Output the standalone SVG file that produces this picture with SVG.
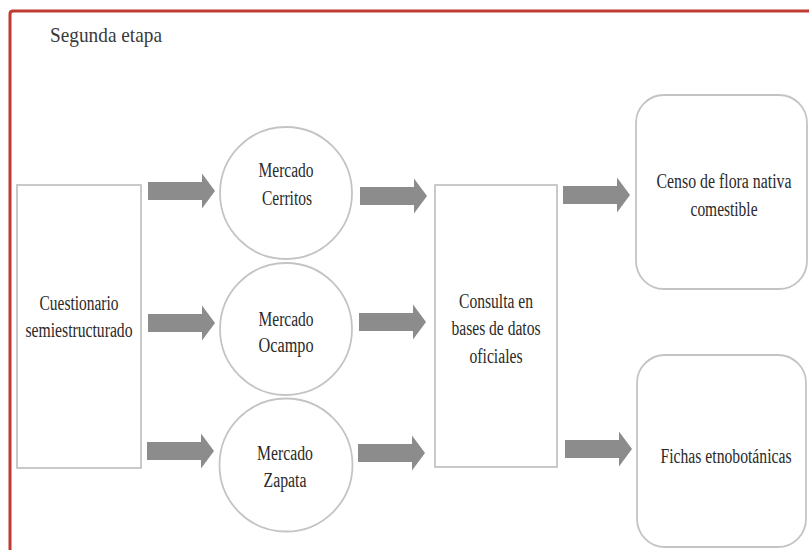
<svg xmlns="http://www.w3.org/2000/svg" xmlns:xlink="http://www.w3.org/1999/xlink" width="809" height="550" viewBox="0 0 809 550">
  <style>
    .frame { fill: none; stroke: #bf3a31; stroke-width: 3; }
    .box { fill: #ffffff; stroke: #c4c4c4; stroke-width: 1.8; }
    /* narrow, tall serif lettering: 16px wide glyphs stretched 1.25x vertically */
    .lbl { font-family: "Liberation Serif", "Times New Roman", serif; font-size: 16px; fill: #2a2a2a; text-anchor: middle; }
    .title { font-family: "Liberation Serif", "Times New Roman", serif; font-size: 17px; fill: #3a3a3a; }
    .arrow { fill: #8c8c8c; }
  </style>
  <defs>
    <!-- block arrow pointing right, origin at tail centre -->
    <path id="blockArrow" class="arrow" d="M0,-9 H54 V-17.5 L67,0 L54,17.5 V9 H0 Z"/>
  </defs>

  <rect width="809" height="550" fill="#ffffff"/>
  <path class="frame" d="M10,550 V14 Q10,11 13,11 H809"/>

  <text class="title" transform="translate(50,42) scale(1,1.25)" textLength="112" lengthAdjust="spacingAndGlyphs">Segunda etapa</text>

  <g id="connectors">
    <use xlink:href="#blockArrow" transform="translate(148,191)"/>
    <use xlink:href="#blockArrow" transform="translate(148,323)"/>
    <use xlink:href="#blockArrow" transform="translate(147,451)"/>
    <use xlink:href="#blockArrow" transform="translate(360,196)"/>
    <use xlink:href="#blockArrow" transform="translate(359,322)"/>
    <use xlink:href="#blockArrow" transform="translate(358,453)"/>
    <use xlink:href="#blockArrow" transform="translate(563,195)"/>
    <use xlink:href="#blockArrow" transform="translate(565,449)"/>
  </g>

  <g id="cuestionario">
    <rect class="box" x="17" y="185" width="124" height="283"/>
    <text class="lbl" transform="translate(79,310) scale(1,1.25)" textLength="79" lengthAdjust="spacingAndGlyphs">Cuestionario</text>
    <text class="lbl" transform="translate(79,337) scale(1,1.25)" textLength="107" lengthAdjust="spacingAndGlyphs">semiestructurado</text>
  </g>

  <g id="mercado-cerritos">
    <circle class="box" cx="286" cy="193" r="66"/>
    <text class="lbl" transform="translate(286,177) scale(1,1.25)" textLength="55" lengthAdjust="spacingAndGlyphs">Mercado</text>
    <text class="lbl" transform="translate(287,205) scale(1,1.25)" textLength="50" lengthAdjust="spacingAndGlyphs">Cerritos</text>
  </g>

  <g id="mercado-ocampo">
    <circle class="box" cx="286" cy="329" r="66"/>
    <text class="lbl" transform="translate(286,326) scale(1,1.25)" textLength="55" lengthAdjust="spacingAndGlyphs">Mercado</text>
    <text class="lbl" transform="translate(286,352) scale(1,1.25)" textLength="55" lengthAdjust="spacingAndGlyphs">Ocampo</text>
  </g>

  <g id="mercado-zapata">
    <circle class="box" cx="286" cy="465" r="66.5"/>
    <text class="lbl" transform="translate(285,460) scale(1,1.25)" textLength="56" lengthAdjust="spacingAndGlyphs">Mercado</text>
    <text class="lbl" transform="translate(285,487) scale(1,1.25)" textLength="43" lengthAdjust="spacingAndGlyphs">Zapata</text>
  </g>

  <g id="consulta">
    <rect class="box" x="435" y="185" width="122" height="282"/>
    <text class="lbl" transform="translate(496,308) scale(1,1.25)" textLength="74" lengthAdjust="spacingAndGlyphs">Consulta en</text>
    <text class="lbl" transform="translate(496,335) scale(1,1.25)" textLength="89" lengthAdjust="spacingAndGlyphs">bases de datos</text>
    <text class="lbl" transform="translate(496,363) scale(1,1.25)" textLength="53" lengthAdjust="spacingAndGlyphs">oficiales</text>
  </g>

  <g id="censo">
    <rect class="box" x="636" y="95" width="171" height="194" rx="28" ry="28"/>
    <text class="lbl" transform="translate(724,188) scale(1,1.25)" textLength="135" lengthAdjust="spacingAndGlyphs">Censo de flora nativa</text>
    <text class="lbl" transform="translate(724,216) scale(1,1.25)" textLength="67" lengthAdjust="spacingAndGlyphs">comestible</text>
  </g>

  <g id="fichas">
    <rect class="box" x="637" y="355" width="169" height="192" rx="28" ry="28"/>
    <text class="lbl" transform="translate(726,463) scale(1,1.25)" textLength="131" lengthAdjust="spacingAndGlyphs">Fichas etnobotánicas</text>
  </g>
</svg>
